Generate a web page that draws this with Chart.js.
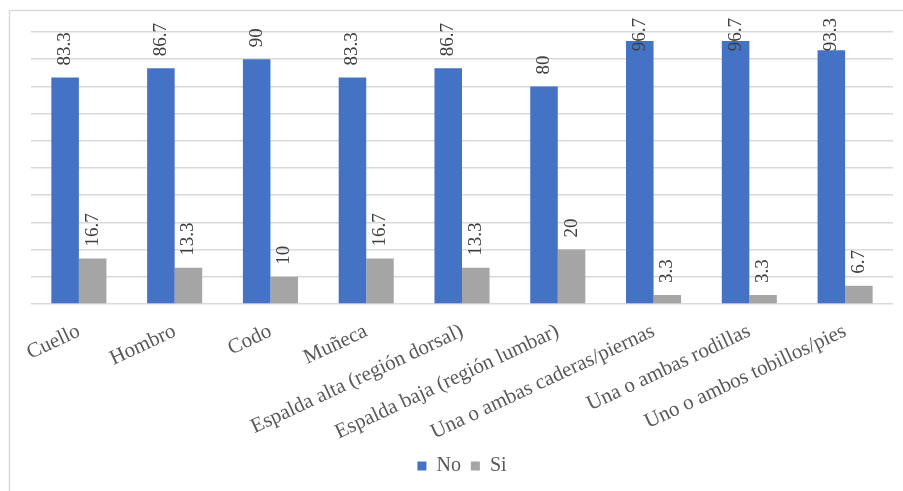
<!DOCTYPE html>
<html>
<head>
<meta charset="utf-8">
<script src="https://cdn.jsdelivr.net/npm/chart.js@4/dist/chart.umd.min.js"></script>
<style>
  html, body { margin: 0; padding: 0; background: #fff; }
  #wrap { width: 903px; height: 491px; position: relative; }
</style>
</head>
<body>
<div id="wrap"><canvas id="c" width="903" height="491"></canvas></div>
<script>
const categories = ["Cuello", "Hombro", "Codo", "Muñeca", "Espalda alta (región dorsal)", "Espalda baja (región lumbar)", "Una o ambas caderas/piernas", "Una o ambas rodillas", "Uno o ambos tobillos/pies"];
const noValues = [83.3, 86.7, 90, 83.3, 86.7, 80, 96.7, 96.7, 93.3];
const siValues = [16.7, 13.3, 10, 16.7, 13.3, 20, 3.3, 3.3, 6.7];
const seriesNames = ["No", "Si"];
const yTicks = [0, 10, 20, 30, 40, 50, 60, 70, 80, 90, 100];

const SERIF = "'Liberation Serif', 'Times New Roman', serif";

const borderPlugin = {
  id: 'outerBorder',
  beforeDraw(chart) {
    const ctx = chart.ctx;
    ctx.save();
    ctx.strokeStyle = '#d9d9d9';
    ctx.lineWidth = 1.5;
    ctx.beginPath();
    ctx.moveTo(9.5, 491);
    ctx.lineTo(9.5, 10.5);
    ctx.lineTo(903, 10.5);
    ctx.stroke();
    ctx.restore();
  }
};

const labelPlugin = {
  id: 'valueLabels',
  afterDatasetsDraw(chart) {
    const ctx = chart.ctx;
    ctx.save();
    ctx.font = '19px ' + SERIF;
    ctx.fillStyle = '#404040';
    ctx.textAlign = 'left';
    ctx.textBaseline = 'middle';
    chart.data.datasets.forEach((ds, di) => {
      const meta = chart.getDatasetMeta(di);
      meta.data.forEach((bar, i) => {
        const txt = String(ds.data[i]);
        const w = ctx.measureText(txt).width;
        let start = bar.y - 12;
        const minTop = 18;
        if (start - w < minTop) start = minTop + w;
        ctx.save();
        ctx.translate(bar.x, start);
        ctx.rotate(-Math.PI / 2);
        ctx.fillText(txt, 0, 0);
        ctx.restore();
      });
    });
    ctx.restore();
  }
};

new Chart(document.getElementById('c'), {
  type: 'bar',
  data: {
    labels: categories,
    datasets: [
      { label: seriesNames[0], data: noValues, backgroundColor: '#4472C4', categoryPercentage: 0.575, barPercentage: 1.0 },
      { label: seriesNames[1], data: siValues, backgroundColor: '#A5A5A5', categoryPercentage: 0.575, barPercentage: 1.0 }
    ]
  },
  options: {
    responsive: false,
    animation: false,
    devicePixelRatio: 1,
    layout: { padding: { left: 31, right: 10, top: 32, bottom: 5 } },
    plugins: {
      legend: {
        position: 'bottom',
        labels: {
          boxWidth: 9, boxHeight: 9, padding: 10,
          color: '#595959',
          font: { family: SERIF, size: 20 }
        }
      },
      tooltip: { enabled: false }
    },
    scales: {
      x: {
        grid: { display: false, drawTicks: false },
        border: { display: false },
        ticks: {
          autoSkip: false,
          minRotation: 25, maxRotation: 25,
          padding: 15,
          color: '#595959',
          font: { family: SERIF, size: 21 }
        },
        afterFit(scale) { scale.height = 142; }
      },
      y: {
        min: 0, max: 100,
        afterBuildTicks(scale) { scale.ticks = yTicks.map(v => ({ value: v })); },
        ticks: { display: false },
        grid: { color: '#d9d9d9', lineWidth: 1.5, drawTicks: false },
        border: { display: false },
        afterFit(scale) { scale.width = 0; }
      }
    }
  },
  plugins: [borderPlugin, labelPlugin]
});
</script>
</body>
</html>
